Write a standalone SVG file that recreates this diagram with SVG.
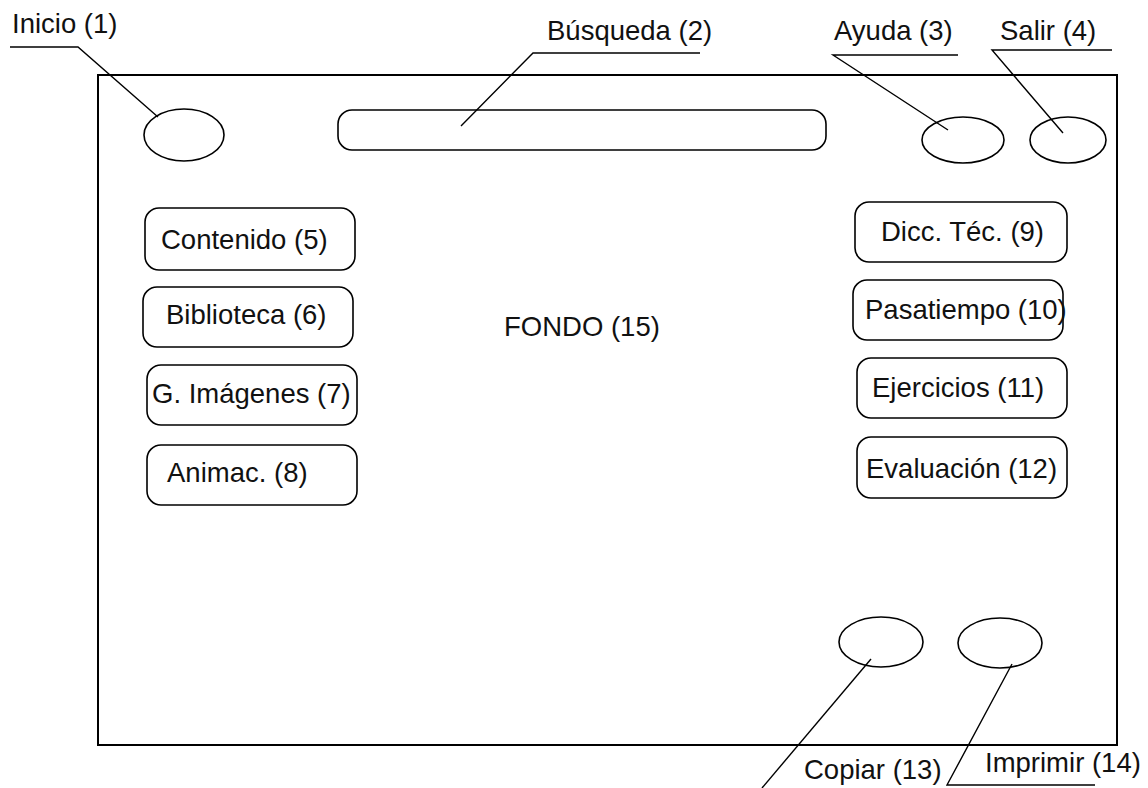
<svg xmlns="http://www.w3.org/2000/svg" width="1148" height="788" viewBox="0 0 1148 788">
  <style>
    .frame { fill: none; stroke: #000; stroke-width: 2; }
    .shape { fill: none; stroke: #000; stroke-width: 1.6; }
    .lead { fill: none; stroke: #000; stroke-width: 1.4; }
    text { font-family: "Liberation Sans", Arial, sans-serif; font-size: 27.5px; fill: #111; }
  </style>
  <rect width="1148" height="788" fill="#fff"/>

  <!-- screen frame / background -->
  <g id="fondo">
    <rect class="frame" x="98" y="75" width="1019" height="670"/>
    <text x="504" y="336">FONDO (15)</text>
  </g>

  <!-- top bar -->
  <g id="inicio">
    <ellipse class="shape" cx="184" cy="135" rx="40" ry="26"/>
    <text x="12" y="33">Inicio (1)</text>
  </g>
  <g id="busqueda">
    <rect class="shape" x="338" y="110" width="488" height="40" rx="14"/>
    <text x="547" y="40">Búsqueda (2)</text>
  </g>
  <g id="ayuda">
    <ellipse class="shape" cx="963" cy="140" rx="41" ry="23"/>
    <text x="834" y="40">Ayuda (3)</text>
  </g>
  <g id="salir">
    <ellipse class="shape" cx="1068" cy="140" rx="38" ry="23"/>
    <text x="1000" y="40">Salir (4)</text>
  </g>

  <!-- left menu -->
  <g id="contenido">
    <rect class="shape" x="145" y="208" width="210" height="62" rx="14"/>
    <text x="161" y="249">Contenido (5)</text>
  </g>
  <g id="biblioteca">
    <rect class="shape" x="143" y="287" width="210" height="60" rx="14"/>
    <text x="166" y="324">Biblioteca (6)</text>
  </g>
  <g id="imagenes">
    <rect class="shape" x="147" y="365" width="210" height="60" rx="14"/>
    <text x="152" y="403">G. Imágenes (7)</text>
  </g>
  <g id="animac">
    <rect class="shape" x="147" y="445" width="210" height="60" rx="14"/>
    <text x="167" y="482">Animac. (8)</text>
  </g>

  <!-- right menu -->
  <g id="diccionario">
    <rect class="shape" x="855" y="202" width="212" height="60" rx="14"/>
    <text x="881" y="241">Dicc. Téc. (9)</text>
  </g>
  <g id="pasatiempo">
    <rect class="shape" x="853" y="280" width="210" height="60" rx="14"/>
    <text x="865" y="319">Pasatiempo (10)</text>
  </g>
  <g id="ejercicios">
    <rect class="shape" x="857" y="358" width="210" height="60" rx="14"/>
    <text x="872" y="397">Ejercicios (11)</text>
  </g>
  <g id="evaluacion">
    <rect class="shape" x="857" y="437" width="210" height="61" rx="14"/>
    <text x="866" y="478">Evaluación (12)</text>
  </g>

  <!-- bottom buttons -->
  <g id="copiar">
    <ellipse class="shape" cx="881" cy="642" rx="42" ry="25"/>
    <text x="804" y="779">Copiar (13)</text>
  </g>
  <g id="imprimir">
    <ellipse class="shape" cx="1000" cy="643" rx="42" ry="25"/>
    <text x="985" y="772">Imprimir (14)</text>
  </g>

  <!-- leader lines from labels to controls -->
  <g id="connectors">
    <polyline class="lead" points="10,47 78,47 158,117"/>
    <polyline class="lead" points="700,53 533,53 461,126"/>
    <polyline class="lead" points="958,55 833,55 948,130"/>
    <polyline class="lead" points="1112,50 992,50 1063,133"/>
    <line class="lead" x1="871" y1="659" x2="762" y2="788"/>
    <polyline class="lead" points="1012,664 947,785 1095,785"/>
  </g>
</svg>
